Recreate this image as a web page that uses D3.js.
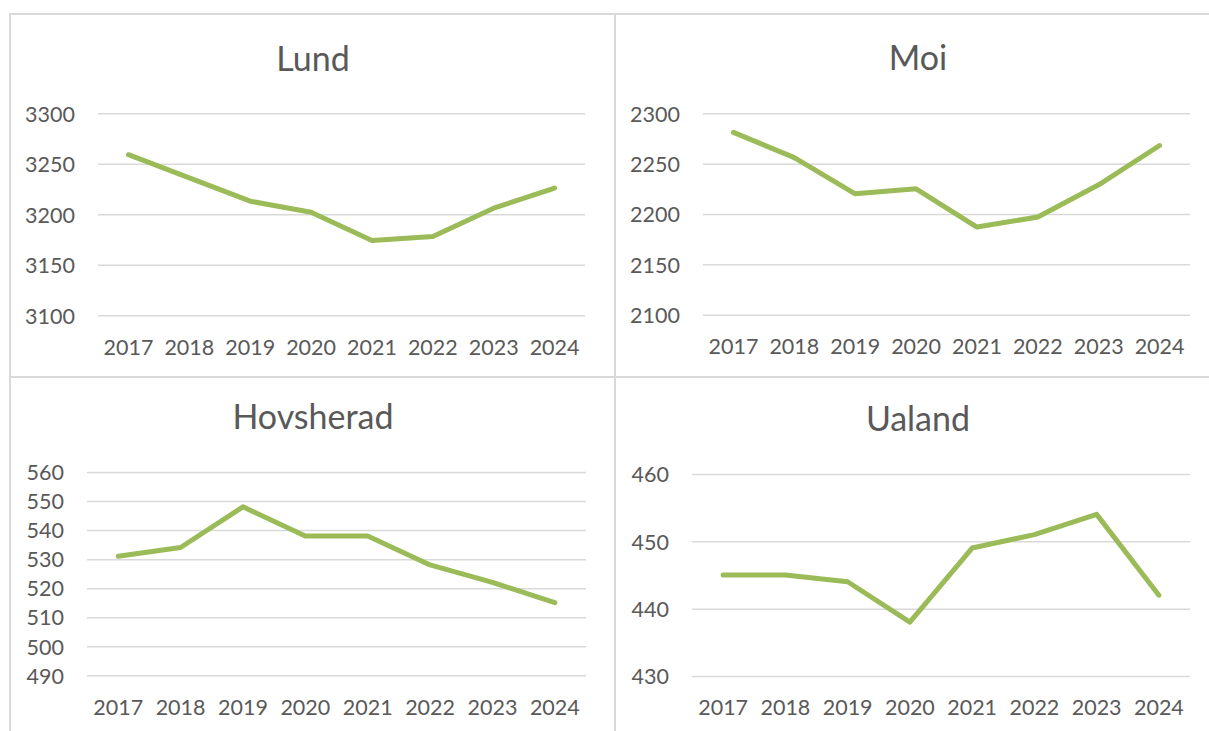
<!DOCTYPE html>
<html><head><meta charset="utf-8">
<script src="https://cdn.jsdelivr.net/npm/d3@7"></script>
<style>
body{margin:0;background:#fff}
svg text{font-family:Lato,"Open Sans",sans-serif;fill:#595959}
</style>
</head><body><svg id="c" width="1209" height="731"></svg>
<script>
// ---- data ----
const years = ["2017","2018","2019","2020","2021","2022","2023","2024"];
const titles = ["Lund","Moi","Hovsherad","Ualand"];
const lundValues = [3259, 3236, 3213, 3202, 3174, 3178, 3206, 3226];
const moiValues = [2281, 2256, 2220, 2225, 2187, 2197, 2229, 2268];
const hovsheradValues = [531, 534, 548, 538, 538, 528, 522, 515];
const ualandValues = [445, 445, 444, 438, 449, 451, 454, 442];
const lundTicks = [3100, 3150, 3200, 3250, 3300];
const moiTicks = [2100, 2150, 2200, 2250, 2300];
const hovsheradTicks = [490, 500, 510, 520, 530, 540, 550, 560];
const ualandTicks = [430, 440, 450, 460];

// ---- layout ----
const panels = [
  {title: titles[0], values: lundValues, ticks: lundTicks, box:[10,14,615,377], plot:[98,113.3,585,315.3], titleY:70.5},
  {title: titles[1], values: moiValues, ticks: moiTicks, box:[615,14,1222,377], plot:[703,113.3,1190,314.7], titleY:70},
  {title: titles[2], values: hovsheradValues, ticks: hovsheradTicks, box:[10,377,615,740], plot:[87,472,586,675.3], titleY:428.5},
  {title: titles[3], values: ualandValues, ticks: ualandTicks, box:[615,377,1222,740], plot:[692,474,1190,676], titleY:430.5}
];

const svg = d3.select("#c");
svg.append("rect").attr("width",1209).attr("height",731).attr("fill","#fff");

panels.forEach(p => {
  const [bx0, by0, bx1, by1] = p.box;
  const [px0, py0, px1, py1] = p.plot;
  const g = svg.append("g");

  g.append("rect")
    .attr("x", bx0).attr("y", by0)
    .attr("width", bx1 - bx0).attr("height", by1 - by0)
    .attr("fill", "none").attr("stroke", "#d9d9d9").attr("stroke-width", 2);

  const x = d3.scaleBand().domain(years).range([px0, px1]);
  const y = d3.scaleLinear().domain(d3.extent(p.ticks)).range([py1, py0]);

  const ya = g.append("g").attr("transform", `translate(${px0},0)`)
    .call(d3.axisLeft(y).tickValues(p.ticks).tickSize(-(px1 - px0)).tickPadding(23).tickFormat(d3.format("d")));
  ya.select(".domain").remove();
  ya.selectAll("line").attr("stroke", "#d9d9d9").attr("stroke-width", 1.5);
  ya.selectAll("text").attr("font-size", 21.5).attr("dy", "0.36em").style("font-family", "Lato").attr("fill", "#595959");

  const xa = g.append("g").attr("transform", `translate(0,${py1})`)
    .call(d3.axisBottom(x).tickSize(0).tickPadding(24));
  xa.select(".domain").remove();
  xa.selectAll("text").attr("font-size", 21.5).style("font-family", "Lato").attr("fill", "#595959");

  const line = d3.line()
    .x((d, i) => x(years[i]) + x.bandwidth() / 2)
    .y(d => y(d));
  g.append("path").datum(p.values)
    .attr("d", line)
    .attr("fill", "none").attr("stroke", "#9bbb59")
    .attr("stroke-width", 5)
    .attr("stroke-linejoin", "round").attr("stroke-linecap", "round");

  g.append("text")
    .attr("x", (bx0 + Math.min(bx1, 1220)) / 2 + 0.5)
    .attr("y", p.titleY)
    .attr("text-anchor", "middle")
    .attr("font-size", 34)
    .text(p.title);
});
</script>
</body></html>
